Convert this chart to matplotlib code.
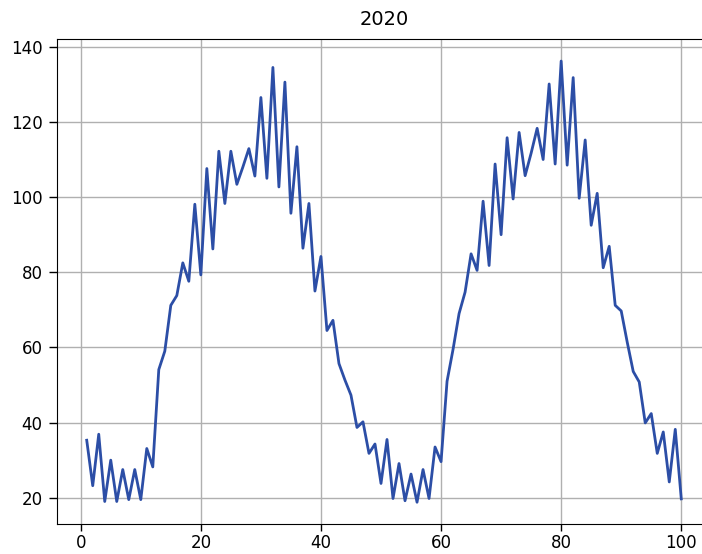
import numpy as np
import matplotlib
matplotlib.use("Agg")
from matplotlib import pyplot as plt

# values, one per day 1..100
days = list(range(1, 101))
values = [
    35.3, 23.2, 36.9, 19.0, 30.0, 19.0, 27.5, 19.5, 27.5, 19.5,
    33.1, 28.2, 54.1, 59.0, 71.2, 73.8, 82.5, 77.6, 98.1, 79.3,
    107.6, 86.2, 112.2, 98.3, 112.2, 103.4, 108.0, 112.9, 105.6, 126.5,
    105.0, 134.5, 102.7, 130.6, 95.7, 113.4, 86.4, 98.3, 75.0, 84.2,
    64.5, 67.2, 55.7, 51.3, 47.3, 38.7, 40.2, 31.8, 34.3, 23.8,
    35.5, 19.8, 29.1, 19.2, 26.3, 18.8, 27.5, 19.8, 33.5, 29.6,
    51.0, 59.5, 69.0, 74.7, 84.9, 80.5, 98.9, 81.8, 108.8, 90.0,
    115.8, 99.5, 117.2, 105.7, 111.7, 118.3, 110.0, 130.1, 108.8, 136.2,
    108.5, 131.8, 99.7, 115.2, 92.5, 101.0, 81.2, 86.9, 71.2, 69.7,
    61.4, 53.6, 50.8, 39.9, 42.4, 31.8, 37.5, 24.2, 38.2, 19.7,
]
title = "2020"

fig = plt.figure(figsize=(7.02, 5.54), dpi=100)
# axes runs a little past the right edge, as in the cropped reference
ax = fig.add_axes([57 / 702, (554 - 524.3) / 554, (711 - 57) / 702, (524.3 - 39) / 554])
ax.plot(days, values, color="#2c4ea6", linewidth=2)
ax.set_title(title, fontsize=14, pad=10)
ax.set_yticks([20, 40, 60, 80, 100, 120, 140])
ax.set_xticks([0, 20, 40, 60, 80, 100])
ax.tick_params(axis="y", labelsize=12, length=6, pad=4.3, width=1)
ax.tick_params(axis="x", labelsize=12, length=5, pad=2, width=1)
ax.grid(True, color="#b0b0b0", linewidth=1)

fig.savefig("out.png", dpi=100)
